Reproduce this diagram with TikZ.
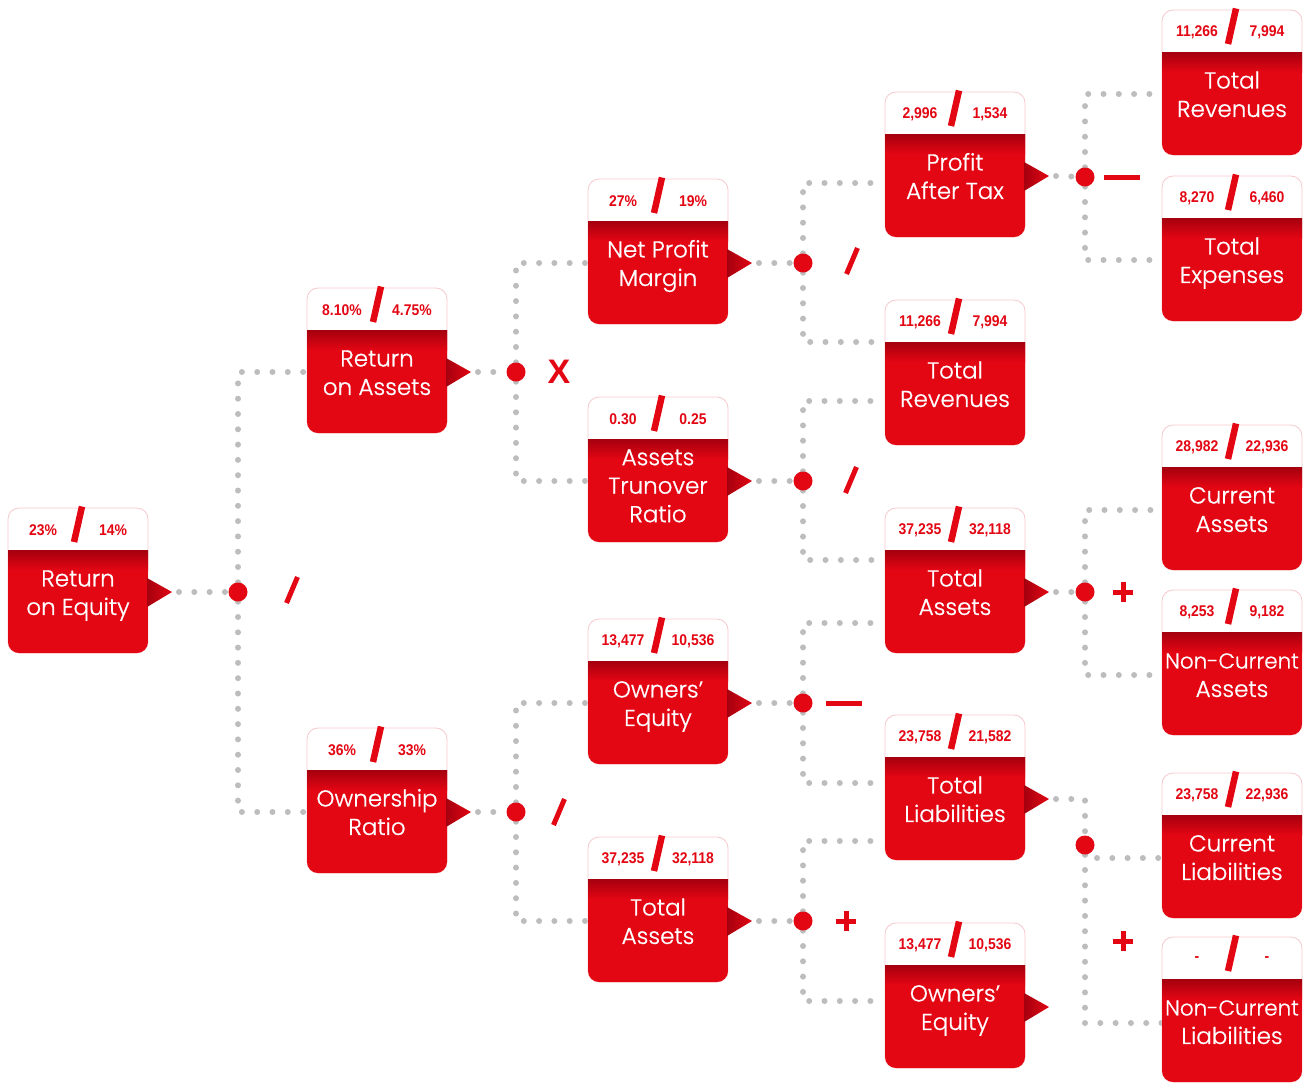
\documentclass[tikz,border=0pt]{standalone}
\usepackage{fontspec}
\IfFontExistsTF{Poppins Light}{\newfontfamily\ttlfont{Poppins Light}[FakeBold=0.8]}{\newfontfamily\ttlfont{Poppins}}
\newfontfamily\numfont{Liberation Sans}[FakeStretch=0.9]
\newfontfamily\opfont{Liberation Sans}
\usetikzlibrary{calc}
\definecolor{boxred}{HTML}{E30613}
\definecolor{dkred}{HTML}{A5000F}
\definecolor{pinkb}{HTML}{F6C9CD}
\definecolor{dotgrey}{HTML}{BDBDBD}
\pgfdeclarelayer{bg}
\pgfsetlayers{bg,main}
\tikzset{
  outer/.style={rectangle,draw=pinkb,fill=white,rounded corners=11pt,minimum width=140pt,minimum height=145pt,inner sep=0pt,line width=0.8pt},
  num/.style={text=boxred,font=\numfont\bfseries\fontsize{15.5}{15.5}\selectfont,inner sep=0pt},
  ttl/.style={text=white,font=\ttlfont\fontsize{23}{28.5}\selectfont,align=center,inner sep=0pt},
  hslash/.style={draw=boxred,line width=6.5pt},
  opbar/.style={draw=boxred,line width=5pt},
  jdot/.style={circle,fill=boxred,minimum size=19pt,inner sep=0pt},
  opx/.style={text=boxred,font=\opfont\bfseries\fontsize{34}{34}\selectfont,inner sep=0pt},
  dots/.style={draw=dotgrey,line width=6pt,line cap=round,dash pattern=on 0pt off 15.3pt}
}
% [#1 title offset], #2 name, #3 left, #4 top, #5 left number, #6 right number, #7 title
\newcommand{\finbox}[7][87]{%
  \node[outer] (#2) at (#3+70,#4+72.5) {};
  \begin{scope}
    \clip[rounded corners=11pt] (#3,#4) rectangle (#3+140,#4+145);
    \fill[boxred] (#3-1,#4+42) rectangle (#3+141,#4+146);
    \shade[top color=dkred,bottom color=boxred] (#3-1,#4+42) rectangle (#3+141,#4+62);
  \end{scope}
  \node[num] (#2-l) at (#3+35,#4+22) {#5};
  \node[num] (#2-r) at (#3+105,#4+22) {#6};
  \draw[hslash] (#3+66,#4+34) -- (#3+74,#4-1.5);
  \node[ttl] (#2-t) at (#3+70,#4+#1) {\strut #7\strut};
  \coordinate (#2-in) at (#3,#4+84);
}
\newcommand{\finarrow}[3]{%
  \shade[left color=dkred,right color=boxred] (#2+139,#3+70) -- (#2+164,#3+84) -- (#2+139,#3+99) -- cycle;
  \coordinate (#1-out) at (#2+171,#3+84);
}
\newcommand{\opslash}[2]{\draw[opbar] (#1-5.5,#2+13) -- (#1+5.5,#2-13);}
\newcommand{\opminus}[2]{\draw[opbar] (#1-18,#2) -- (#1+18,#2);}
\newcommand{\opplus}[2]{\draw[opbar] (#1-10,#2) -- (#1+10,#2); \draw[opbar] (#1,#2-10) -- (#1,#2+10);}
\newcommand{\narrow}{\fontsize{21.5}{28.5}\selectfont}
\begin{document}
\begin{tikzpicture}[x=1pt,y=-1pt]
\useasboundingbox (0,0) rectangle (1311,1082);
% column 1
\finbox{roe}{8}{508}{23\%}{14\%}{Return\\on Equity}\finarrow{roe}{8}{508}
% column 2
\finbox{roa}{307}{288}{8.10\%}{4.75\%}{Return\\on Assets}\finarrow{roa}{307}{288}
\finbox{own}{307}{728}{36\%}{33\%}{Ownership\\Ratio}\finarrow{own}{307}{728}
% column 3
\finbox{npm}{588}{179}{27\%}{19\%}{Net Profit\\Margin}\finarrow{npm}{588}{179}
\finbox[91]{atr}{588}{397}{0.30}{0.25}{Assets\\Trunover\\Ratio}\finarrow{atr}{588}{397}
\finbox{oeA}{588}{619}{13,477}{10,536}{Owners’\\Equity}\finarrow{oeA}{588}{619}
\finbox{taA}{588}{837}{37,235}{32,118}{Total\\Assets}\finarrow{taA}{588}{837}
% column 4
\finbox{pat}{885}{92}{2,996}{1,534}{Profit\\After Tax}\finarrow{pat}{885}{92}
\finbox{trA}{885}{300}{11,266}{7,994}{Total\\Revenues}
\finbox{taB}{885}{508}{37,235}{32,118}{Total\\Assets}\finarrow{taB}{885}{508}
\finbox{tl}{885}{715}{23,758}{21,582}{Total\\Liabilities}\finarrow{tl}{885}{715}
\finbox{oeB}{885}{923}{13,477}{10,536}{Owners’\\Equity}\finarrow{oeB}{885}{923}
% column 5
\finbox{trB}{1162}{10}{11,266}{7,994}{Total\\Revenues}
\finbox{te}{1162}{176}{8,270}{6,460}{Total\\Expenses}
\finbox{ca}{1162}{425}{28,982}{22,936}{Current\\Assets}
\finbox{nca}{1162}{590}{8,253}{9,182}{\narrow Non-Current\\Assets}
\finbox{cl}{1162}{773}{23,758}{22,936}{Current\\Liabilities}
\finbox{ncl}{1162}{937}{-}{-}{\narrow Non-Current\\Liabilities}
% entry points
\coordinate (pat-a) at (885,183);
\coordinate (trA-a) at (885,342);
\coordinate (trA-b) at (885,401);
\coordinate (taB-a) at (885,560);
\coordinate (taB-b) at (885,623);
\coordinate (tl-a) at (885,783);
\coordinate (tl-b) at (885,841);
\coordinate (oeB-a) at (885,1001);
\coordinate (ca-a) at (1162,510);
\coordinate (nca-a) at (1162,675);
\coordinate (cl-a) at (1162,858);
\coordinate (ncl-a) at (1162,1023);
% junctions
\node[jdot] (j1) at (238,592) {};
\node[jdot] (j2) at (516,372) {};
\node[jdot] (j3) at (516,812) {};
\node[jdot] (j4) at (803,263) {};
\node[jdot] (j5) at (803,481) {};
\node[jdot] (j6) at (803,703) {};
\node[jdot] (j7) at (803,921) {};
\node[jdot] (j8) at (1085,177) {};
\node[jdot] (j9) at (1085,592) {};
\node[jdot] (j10) at (1085,845) {};
% operators
\opslash{292}{590}
\node[opx] (opX) at (559,372) {X};
\opslash{559}{812}
\opslash{852}{261}
\opslash{851}{480}
\opminus{844}{703}
\opplus{846}{921}
\opminus{1122}{177}
\opplus{1123}{592}
\opplus{1123}{941}
% connectors
\begin{pgfonlayer}{bg}
\draw[dots] (roe-out) -- (j1);
\draw[dots] (j1) |- (roa-in);
\draw[dots] (j1) |- (own-in);
\draw[dots] (roa-out) -- (j2);
\draw[dots] (j2) |- (npm-in);
\draw[dots] (j2) |- (atr-in);
\draw[dots] (own-out) -- (j3);
\draw[dots] (j3) |- (oeA-in);
\draw[dots] (j3) |- (taA-in);
\draw[dots] (npm-out) -- (j4);
\draw[dots] (j4) |- (pat-a);
\draw[dots] (j4) |- (trA-a);
\draw[dots] (atr-out) -- (j5);
\draw[dots] (j5) |- (trA-b);
\draw[dots] (j5) |- (taB-a);
\draw[dots] (oeA-out) -- (j6);
\draw[dots] (j6) |- (taB-b);
\draw[dots] (j6) |- (tl-a);
\draw[dots] (taA-out) -- (j7);
\draw[dots] (j7) |- (tl-b);
\draw[dots] (j7) |- (oeB-a);
\draw[dots] (pat-out) -- (j8);
\draw[dots] (j8) |- (trB-in);
\draw[dots] (j8) |- (te-in);
\draw[dots] (taB-out) -- (j9);
\draw[dots] (j9) |- (ca-a);
\draw[dots] (j9) |- (nca-a);
\draw[dots] (tl-out) -| (j10);
\draw[dots] (j10) |- (cl-a);
\draw[dots] (j10) |- (ncl-a);
\end{pgfonlayer}
\end{tikzpicture}
\end{document}
